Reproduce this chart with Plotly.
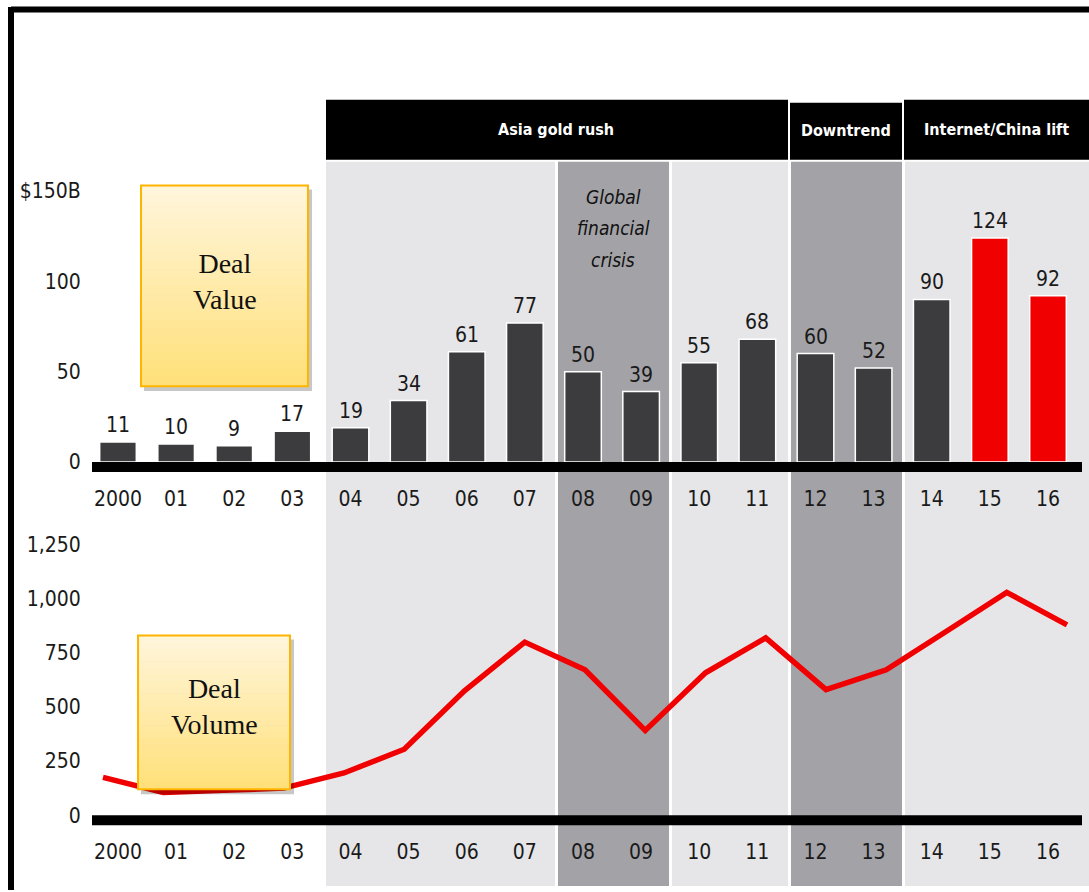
import plotly.graph_objects as go

# ---------------- data ----------------
years = ["2000", "01", "02", "03", "04", "05", "06", "07", "08",
         "09", "10", "11", "12", "13", "14", "15", "16"]
deal_value = [11, 10, 9, 17, 19, 34, 61, 77, 50, 39, 55, 68, 60, 52, 90, 124, 92]
deal_volume = [175, 105, 115, 125, 195, 305, 575, 800, 672, 392, 658, 820, 580, 672, 850, 1030, 880]
highlight_years = ["15", "16"]
value_tickvals = [0, 50, 100, 150]
value_ticktext = ["0", "50", "100", "$150B"]
volume_tickvals = [0, 250, 500, 750, 1000, 1250]
volume_ticktext = ["0", "250", "500", "750", "1,000", "1,250"]
phase_labels = ["Asia gold rush", "Downtrend", "Internet/China lift"]
crisis_lines = ["Global", "financial", "crisis"]

# ---------------- geometry helpers (pixels -> paper) ----------------
W, H = 1089, 892
def fx(p): return p / W
def fy(p): return 1 - p / H

FONT = "DejaVu Sans Condensed, Liberation Sans Narrow, Arial Narrow, sans-serif"
SERIF = "Liberation Serif, DejaVu Serif, serif"
DARK = "#3c3c3f"
RED = "#f00000"
LIGHT_BG = "#e6e6e8"
DARK_BG = "#a3a3a7"

x_left_px, x_right_px = 92, 1082
cat0_px, cat_step = 118, 58.125
x_range = [(x_left_px - cat0_px) / cat_step, (x_right_px - cat0_px) / cat_step]
line0_px, line_step = 103, 60.25
x3_range = [(x_left_px - line0_px) / line_step, (x_right_px - line0_px) / line_step]

# top panel: 0 at 463px, 1.81 px per $B
top_zero, top_k = 463, 1.81
top_bot_px, top_top_px = 473, 170
y1_range = [(top_zero - top_bot_px) / top_k, (top_zero - top_top_px) / top_k]
# bottom panel: 0 at 817px, 0.2168 px per deal
bot_zero, bot_k = 817, 0.2168
bot_bot_px, bot_top_px = 827, 530
y2_range = [(bot_zero - bot_bot_px) / bot_k, (bot_zero - bot_top_px) / bot_k]

xs = list(range(len(years)))
bar_colors = [RED if y in highlight_years else DARK for y in years]

fig = go.Figure()
fig.add_trace(go.Bar(
    x=xs, y=deal_value, marker=dict(color=bar_colors, line=dict(color="white", width=1.5)),
    width=0.63, xaxis="x", yaxis="y", hoverinfo="skip", showlegend=False))
# empty trace so the lower year axis gets its own subplot
fig.add_trace(go.Scatter(x=[], y=[], xaxis="x2", yaxis="y2", showlegend=False, hoverinfo="skip"))
fig.add_trace(go.Scatter(
    x=xs, y=deal_volume, mode="lines", line=dict(color=RED, width=5.5),
    xaxis="x3", yaxis="y2", hoverinfo="skip", showlegend=False))

shapes = []
def rect(x0, y0, x1, y1, fill, layer="below", line_color=None, line_width=0, opacity=1):
    shapes.append(dict(type="rect", xref="paper", yref="paper",
                       x0=fx(x0), x1=fx(x1), y0=fy(y1), y1=fy(y0),
                       fillcolor=fill, layer=layer, opacity=opacity,
                       line=dict(color=line_color or "rgba(0,0,0,0)", width=line_width)))

# background bands
rect(326, 162, 555, 888, LIGHT_BG)
rect(558, 162, 669, 888, DARK_BG)
rect(672, 162, 788, 888, LIGHT_BG)
rect(791, 162, 902, 888, DARK_BG)
rect(905, 162, 1089, 888, LIGHT_BG)
# header bars
rect(326, 100, 788, 160, "black")
rect(790, 103, 902, 160, "black")
rect(904, 100, 1089, 160, "black")
# thick zero lines
rect(x_left_px, 463, x_right_px, 473, "black", layer="above")
rect(x_left_px, 817, x_right_px, 827, "black", layer="above")

# label boxes with gradient & shadow
def label_box(x0, y0, x1, y1):
    rect(x0 + 3, y0 + 4, x1 + 4, y1 + 5, "rgba(0,0,0,0.22)", layer="above")
    n = 24
    c_top, c_bot = (255, 245, 218), (255, 224, 122)
    for k in range(n):
        t = k / (n - 1)
        c = tuple(round(c_top[j] + (c_bot[j] - c_top[j]) * t) for j in range(3))
        ya = y0 + (y1 - y0) * k / n
        yb = y0 + (y1 - y0) * (k + 1) / n + 0.6
        rect(x0, ya, x1, yb, "rgb(%d,%d,%d)" % c, layer="above")
    rect(x0, y0, x1, y1, "rgba(0,0,0,0)", layer="above", line_color="#ffb400", line_width=2)

label_box(141, 186, 308, 387)
label_box(138, 637, 290, 791)

# outer frame
shapes.append(dict(type="line", xref="paper", yref="paper", x0=fx(11), x1=fx(1089), y0=fy(9.5), y1=fy(9.5),
                   line=dict(color="black", width=6), layer="above"))
shapes.append(dict(type="line", xref="paper", yref="paper", x0=fx(11), x1=fx(11), y0=fy(7), y1=fy(892),
                   line=dict(color="black", width=6), layer="above"))

annotations = []
def note(x, y, text, size, color="black", font=FONT, **kw):
    annotations.append(dict(xref="paper", yref="paper", x=fx(x), y=fy(y), text=text, showarrow=False,
                            font=dict(family=font, size=size, color=color), xanchor="center",
                            yanchor="middle", **kw))

note(556, 130, "<b>%s</b>" % phase_labels[0], 16, "white")
note(846, 131, "<b>%s</b>" % phase_labels[1], 16, "white")
note(996, 130, "<b>%s</b>" % phase_labels[2], 16, "white")
for k, t in enumerate(crisis_lines):
    note(613, 197 + 32 * k, "<i>%s</i>" % t, 19, "#111111")
note(225, 282, "Deal<br>Value", 28, "#111111", font=SERIF)
note(214, 708, "Deal<br>Volume", 28, "#111111", font=SERIF)

# bar value labels
for i, v in enumerate(deal_value):
    annotations.append(dict(xref="x", yref="y", x=i, y=v, text=str(v), showarrow=False,
                            yanchor="bottom", yshift=3,
                            font=dict(family=FONT, size=21, color="#1a1a1a")))

tickfont = dict(family=FONT, size=21, color="#1a1a1a")
fig.update_layout(
    width=W, height=H, margin=dict(l=0, r=0, t=0, b=0),
    paper_bgcolor="white", plot_bgcolor="rgba(0,0,0,0)",
    shapes=shapes, annotations=annotations, bargap=0.37,
    xaxis=dict(domain=[fx(x_left_px), fx(x_right_px)], range=x_range, anchor="y",
               tickvals=xs, ticktext=years, tickfont=tickfont, showgrid=False, zeroline=False,
               showline=False, ticks="outside", ticklen=8, tickcolor="rgba(0,0,0,0)", fixedrange=True),
    yaxis=dict(domain=[fy(top_bot_px), fy(top_top_px)], range=y1_range, anchor="x",
               tickvals=value_tickvals, ticktext=value_ticktext, tickfont=tickfont,
               showgrid=False, zeroline=False, showline=False,
               ticks="outside", ticklen=6, tickcolor="rgba(0,0,0,0)"),
    xaxis2=dict(domain=[fx(x_left_px), fx(x_right_px)], range=x_range, anchor="y2",
                tickvals=xs, ticktext=years, tickfont=tickfont, showgrid=False, zeroline=False,
                showline=False, ticks="outside", ticklen=8, tickcolor="rgba(0,0,0,0)"),
    xaxis3=dict(domain=[fx(x_left_px), fx(x_right_px)], range=x3_range, anchor="y2",
                overlaying="x2", visible=False),
    yaxis2=dict(domain=[fy(bot_bot_px), fy(bot_top_px)], range=y2_range, anchor="x2",
                tickvals=volume_tickvals, ticktext=volume_ticktext, tickfont=tickfont,
                showgrid=False, zeroline=False, showline=False,
                ticks="outside", ticklen=6, tickcolor="rgba(0,0,0,0)"),
)

fig.write_html("out.html", config={"displayModeBar": False},
               post_script="document.body.style.margin='0';document.body.style.overflow='hidden';")
